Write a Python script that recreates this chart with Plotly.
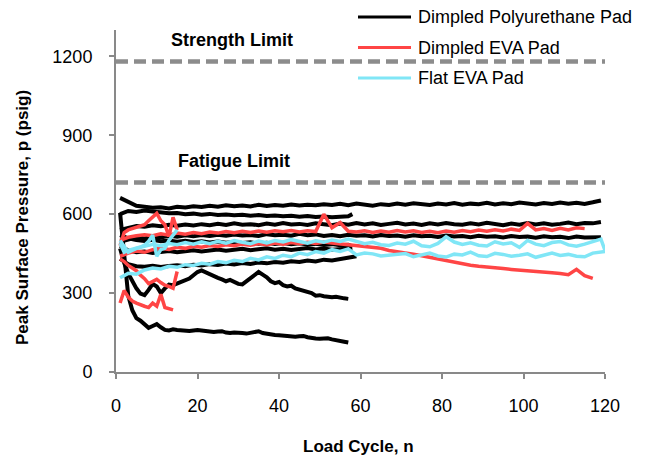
import plotly.graph_objects as go

# ---------------- data ----------------
odd_119 = list(range(1, 120, 2))          # 1,3,...,119
odd_57_58 = list(range(1, 58, 2)) + [58]  # 1..57 odd + 58
odd_59 = list(range(1, 60, 2))            # 1..59
cyc_57 = list(range(1, 58))               # 1..57
cyc_15 = list(range(1, 16))
cyc_14 = list(range(1, 15))
odd_115 = list(range(1, 116, 2))
odd_117 = list(range(1, 118, 2))
odd_119_120 = odd_119 + [120]

# Dimpled Polyurethane Pad
pu1_y = [662,645,632,628,624,626,622,628,625,630,
         627,632,628,634,630,633,629,636,631,635,
         632,637,633,636,634,638,635,639,634,640,
         636,632,638,635,640,636,641,637,635,640,
         637,642,636,640,638,643,637,641,638,644,
         640,637,642,639,644,640,643,639,645,652]
pu3_y = [540,548,555,552,558,554,560,556,561,557,
         562,558,563,559,565,560,562,558,564,560,
         566,561,563,559,565,562,558,564,560,566,
         561,565,559,563,567,561,564,559,565,561,
         566,562,560,565,561,567,562,558,564,560,
         566,561,565,560,563,568,562,566,565,570]
pu4_y = [495,505,512,508,515,511,518,514,520,516,
         521,517,522,518,523,519,521,517,524,520,
         522,518,525,520,523,517,521,516,522,518,
         520,515,521,517,519,514,520,516,518,513,
         519,515,517,512,518,514,516,511,517,513,
         515,510,516,512,514,509,515,511,513,512]
pu2_y = [600,612,608,614,610,606,603,604,600,602,
         598,601,597,599,596,598,594,597,593,595,
         592,594,590,593,589,591,588,590,592,600]
pu5_y = [520,508,502,498,503,497,500,495,499,494,
         497,492,496,491,494,490,493,488,491,487,
         490,486,489,485,487,483,486,482,484,478]
pu9_y = [480,462,455,458,452,456,460,455,459,463,
         458,462,466,461,464,468,463,466,470,465,
         468,464,467,471,466,469,465,468,472,470]
pu6_y = [430,410,402,400,404,399,403,406,402,408,
         405,410,407,412,409,414,411,416,413,418,
         415,421,418,424,420,427,424,430,434,440]
pu7_y = [470,415,375,345,318,298,292,312,335,325,
         300,318,332,330,336,342,348,355,368,380,
         386,378,370,362,358,352,345,350,342,335,
         333,345,360,372,380,370,360,345,338,342,
         330,325,328,318,314,310,306,300,290,292,
         288,286,284,286,282,280,278]
pu8_y = [605,440,290,235,205,195,180,168,175,182,
         170,160,158,162,160,158,157,156,158,160,
         158,155,154,152,154,155,150,148,150,150,
         148,146,150,152,155,148,145,142,141,140,
         138,136,135,134,136,137,132,128,127,126,
         127,128,124,120,118,115,112]

# Dimpled EVA Pad
eva1_y = [500,512,518,522,518,525,520,528,524,530,
          526,532,528,534,529,535,530,536,531,537,
          533,538,532,537,534,600,548,568,535,532,
          537,530,536,531,538,532,537,530,535,529,
          536,531,538,533,540,535,541,536,543,538,
          565,540,545,538,546,540,548,545]
eva2_y = [440,452,460,455,465,470,466,474,470,478,
          474,481,477,484,480,486,482,488,484,490,
          486,492,488,493,489,494,490,487,482,478,
          478,472,470,462,458,452,448,442,436,428,
          422,416,412,406,402,398,396,393,390,388,
          386,383,380,377,374,370,390,366,356]
eva3_y = [480,530,540,545,550,555,560,575,590,603,575,560,515,588,540]
eva4_y = [430,420,405,395,385,368,355,336,345,352,340,330,325,318,382]
eva5_y = [262,310,285,270,262,255,250,245,262,250,295,245,240,236]

# Flat EVA Pad
flat1_y = [500,455,470,478,485,480,488,484,492,486,
           495,488,497,490,500,493,488,498,491,500,
           494,503,496,490,499,493,502,496,505,498,
           488,493,484,481,490,486,497,480,476,489,
           514,494,485,491,482,479,495,487,491,474,
           500,486,480,492,496,483,478,486,494,505,
           462]
flat2_y = [358,375,372,388,395,392,402,398,408,405,
           413,410,420,415,425,420,432,426,438,432,
           444,438,452,446,458,452,465,458,468,445,
           452,449,441,444,447,450,438,446,452,441,
           437,448,445,456,442,439,451,447,440,444,
           449,436,445,452,443,447,440,438,452,455,
           458]
flat3_y = [490,455,462,466,470,475,482,497,520,440,465,470,500,520,540]

strength_limit = 1180
fatigue_limit = 720
limit_x = [0, 120]

x_ticks = [0, 20, 40, 60, 80, 100, 120]
y_ticks = [0, 300, 600, 900, 1200]

series_names = ["Dimpled Polyurethane Pad", "Dimpled EVA Pad", "Flat EVA Pad"]
series_colors = ["#000000", "#FF4545", "#80E6F6"]

black_series = [(odd_119, pu1_y), (odd_57_58, pu2_y), (odd_119, pu3_y), (odd_119, pu4_y),
                (odd_57_58, pu5_y), (odd_57_58, pu9_y), (odd_59, pu6_y),
                (cyc_57, pu7_y), (cyc_57, pu8_y)]
red_series = [(odd_115, eva1_y), (odd_117, eva2_y), (cyc_15, eva3_y),
              (cyc_15, eva4_y), (cyc_14, eva5_y)]
cyan_series = [(odd_119_120, flat1_y), (odd_119_120, flat2_y), (cyc_15, flat3_y)]

FONT = "Liberation Sans, Arial, sans-serif"
fig = go.Figure()

# limit lines
for lim in (strength_limit, fatigue_limit):
    fig.add_trace(go.Scatter(x=limit_x, y=[lim, lim], mode="lines",
                             line=dict(color="#8C8C8C", width=4.5, dash="12px,6px"),
                             showlegend=False, hoverinfo="skip"))

for group, color, width in ((black_series, series_colors[0], 4),
                            (red_series, series_colors[1], 3.5),
                            (cyan_series, series_colors[2], 3.5)):
    for xs, ys in group:
        fig.add_trace(go.Scatter(x=xs, y=ys, mode="lines",
                                 line=dict(color=color, width=width),
                                 showlegend=False))

# limit labels
fig.add_annotation(x=28.5, y=1262, text="<b>Strength Limit</b>", showarrow=False,
                   font=dict(family=FONT, size=18, color="#000"))
fig.add_annotation(x=29, y=803, text="<b>Fatigue Limit</b>", showarrow=False,
                   font=dict(family=FONT, size=18, color="#000"))

# manual legend
L, W, T, H = 116, 489, 30, 342
def px(p): return (p - L) / W
def py(p): return (T + H - p) / H
for i, (name, col) in enumerate(zip(series_names, series_colors)):
    yc = [17, 47.5, 78][i]
    fig.add_shape(type="line", xref="paper", yref="paper",
                  x0=px(358), x1=px(411), y0=py(yc), y1=py(yc),
                  line=dict(color=col, width=3.2))
    fig.add_annotation(xref="paper", yref="paper", x=px(416), y=py(yc), text=name,
                       showarrow=False, xanchor="left", yanchor="middle",
                       font=dict(family=FONT, size=18, color="#000"))

# axis titles
fig.add_annotation(xref="paper", yref="paper", x=px(358), y=py(446),
                   text="<b>Load Cycle, n</b>", showarrow=False,
                   xanchor="center", yanchor="middle",
                   font=dict(family=FONT, size=17, color="#000"))
fig.add_annotation(xref="paper", yref="paper", x=px(22), y=py(218),
                   text="<b>Peak Surface Pressure, p (psig)</b>", showarrow=False,
                   textangle=-90, xanchor="center", yanchor="middle",
                   font=dict(family=FONT, size=17, color="#000"))

axis_common = dict(showgrid=False, zeroline=False, showline=True, linecolor="#898989",
                   linewidth=2, ticks="outside", tickcolor="#898989", tickwidth=2,
                   ticklen=5, tickfont=dict(family=FONT, size=18, color="#000"))
fig.update_xaxes(range=[0, 120], tickvals=x_ticks, ticklabelstandoff=11, **axis_common)
fig.update_yaxes(range=[0, 1300], tickvals=y_ticks, ticklabelstandoff=13, **axis_common)

fig.update_layout(width=652, height=456, margin=dict(l=116, r=47, t=30, b=84),
                  paper_bgcolor="white", plot_bgcolor="white", showlegend=False,
                  font=dict(family=FONT))

fig.write_html("out.html")
